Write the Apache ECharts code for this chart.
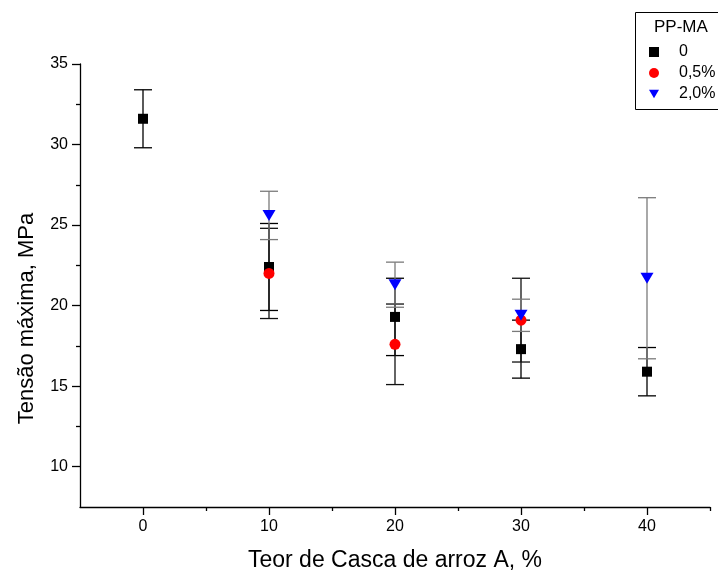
<!DOCTYPE html>
<html><head><meta charset="utf-8">
<script src="https://cdn.jsdelivr.net/npm/echarts@6/dist/echarts.min.js"></script>
<style>html,body{margin:0;padding:0;background:#fff}#c{width:718px;height:577px}</style>
</head><body><div id="c"></div>
<script>
// Data
const seriesNames = ['0', '0,5%', '2,0%'];
const x0 = [0, 10, 20, 30, 40];
const mean0 = [31.6, 22.4, 19.3, 17.3, 15.9];
const err0 = [1.8, 2.7, 2.4, 1.8, 1.5];
const x05 = [10, 20, 30];
const mean05 = [22.0, 17.6, 19.1];
const err05 = [2.8, 2.5, 2.6];
const x20 = [10, 20, 30, 40];
const mean20 = [25.6, 21.3, 19.4, 21.7];
const err20 = [1.5, 1.4, 1.0, 5.0];
const xMajor = [0, 10, 20, 30, 40];
const xMinor = [5, 15, 25, 35, 45];
const yMajor = [10, 15, 20, 25, 30, 35];
const yMinor = [12.5, 17.5, 22.5, 27.5, 32.5];

const font = 'Liberation Sans, Arial, sans-serif';
const triDown = 'path://M0,0 L12,0 L6,10 Z';
function pts(xs, ms) { return xs.map((x, i) => [x, ms[i]]); }
function errs(xs, ms, es) { return xs.map((x, i) => [x, ms[i] - es[i], ms[i] + es[i]]); }
function errSeries(data, color) {
  return {
    type: 'custom', xAxisIndex: 0, yAxisIndex: 0, silent: true, z: 1,
    data: data,
    renderItem: function (params, api) {
      const lo = api.coord([api.value(0), api.value(1)]);
      const hi = api.coord([api.value(0), api.value(2)]);
      const hw = 9;
      const st = { stroke: color, lineWidth: 1.3 };
      return { type: 'group', children: [
        { type: 'line', shape: { x1: lo[0], y1: lo[1], x2: hi[0], y2: hi[1] }, style: st },
        { type: 'line', shape: { x1: lo[0] - hw, y1: lo[1], x2: lo[0] + hw, y2: lo[1] }, style: st },
        { type: 'line', shape: { x1: hi[0] - hw, y1: hi[1], x2: hi[0] + hw, y2: hi[1] }, style: st }
      ]};
    }
  };
}
const axisLine = { show: true, onZero: false, lineStyle: { color: '#000', width: 1.3 } };
const chart = echarts.init(document.getElementById('c'));
chart.setOption({
  animation: false,
  grid: { left: 80, right: 8, top: 64, bottom: 70 },
  legend: {
    data: [
      { name: seriesNames[0], icon: 'rect' },
      { name: seriesNames[1], icon: 'circle' },
      { name: seriesNames[2], icon: triDown }
    ],
    orient: 'vertical', left: 649, top: 44, itemGap: 5, padding: 0,
    itemWidth: 10, itemHeight: 10,
    textStyle: { fontFamily: font, fontSize: 16, color: '#000', padding: [0, 0, 0, 15] }
  },
  graphic: [
    { type: 'rect', left: 633, top: 10, shape: { width: 100, height: 97 }, style: { fill: 'none', stroke: '#000', lineWidth: 1 }, z: 10 },
    { type: 'text', left: 654, top: 19, style: { text: 'PP-MA', fontFamily: font, fontSize: 17, fill: '#000' }, z: 10 }
  ],
  xAxis: [{
    type: 'value', min: -5, max: 45,
    name: 'Teor de Casca de arroz A, %', nameLocation: 'middle', nameGap: 42,
    nameTextStyle: { fontFamily: font, fontSize: 23, color: '#000' },
    axisLine: axisLine,
    axisTick: { show: true, length: 8, customValues: xMajor, lineStyle: { color: '#000', width: 1.3 } },
    axisLabel: { customValues: xMajor, fontFamily: font, fontSize: 16, color: '#000', margin: 12 },
    splitLine: { show: false }
  }, {
    type: 'value', min: -5, max: 45, position: 'bottom',
    axisLine: { show: false, onZero: false },
    axisTick: { show: true, length: 4, customValues: xMinor, lineStyle: { color: '#000', width: 1.3 } },
    axisLabel: { show: false }, splitLine: { show: false }
  }],
  yAxis: [{
    type: 'value', min: 7.5, max: 35,
    name: 'Tensão máxima, MPa', nameLocation: 'middle', nameGap: 42,
    nameTextStyle: { fontFamily: font, fontSize: 22, color: '#000', padding: [0, 66, 0, 0] },
    axisLine: axisLine,
    axisTick: { show: true, length: 8, customValues: yMajor, lineStyle: { color: '#000', width: 1.3 } },
    axisLabel: { customValues: yMajor, fontFamily: font, fontSize: 16, color: '#000', margin: 12 },
    splitLine: { show: false }
  }, {
    type: 'value', min: 7.5, max: 35, position: 'left',
    axisLine: { show: false, onZero: false },
    axisTick: { show: true, length: 4, customValues: yMinor, lineStyle: { color: '#000', width: 1.3 } },
    axisLabel: { show: false }, splitLine: { show: false }
  }],
  series: [
    errSeries(errs(x0, mean0, err0), '#000'),
    errSeries(errs(x05, mean05, err05), '#111'),
    errSeries(errs(x20, mean20, err20), '#7a7a7a'),
    { name: seriesNames[0], type: 'scatter', data: pts(x0, mean0), symbol: 'rect', symbolSize: 10, itemStyle: { color: '#000', opacity: 1 }, z: 3 },
    { name: seriesNames[1], type: 'scatter', data: pts(x05, mean05), symbol: 'circle', symbolSize: 11, itemStyle: { color: '#ff0000', opacity: 1 }, z: 4 },
    { name: seriesNames[2], type: 'scatter', data: pts(x20, mean20), symbol: triDown, symbolSize: [13, 11], itemStyle: { color: '#0000ff', opacity: 1 }, z: 5 }
  ]
});
</script></body></html>
